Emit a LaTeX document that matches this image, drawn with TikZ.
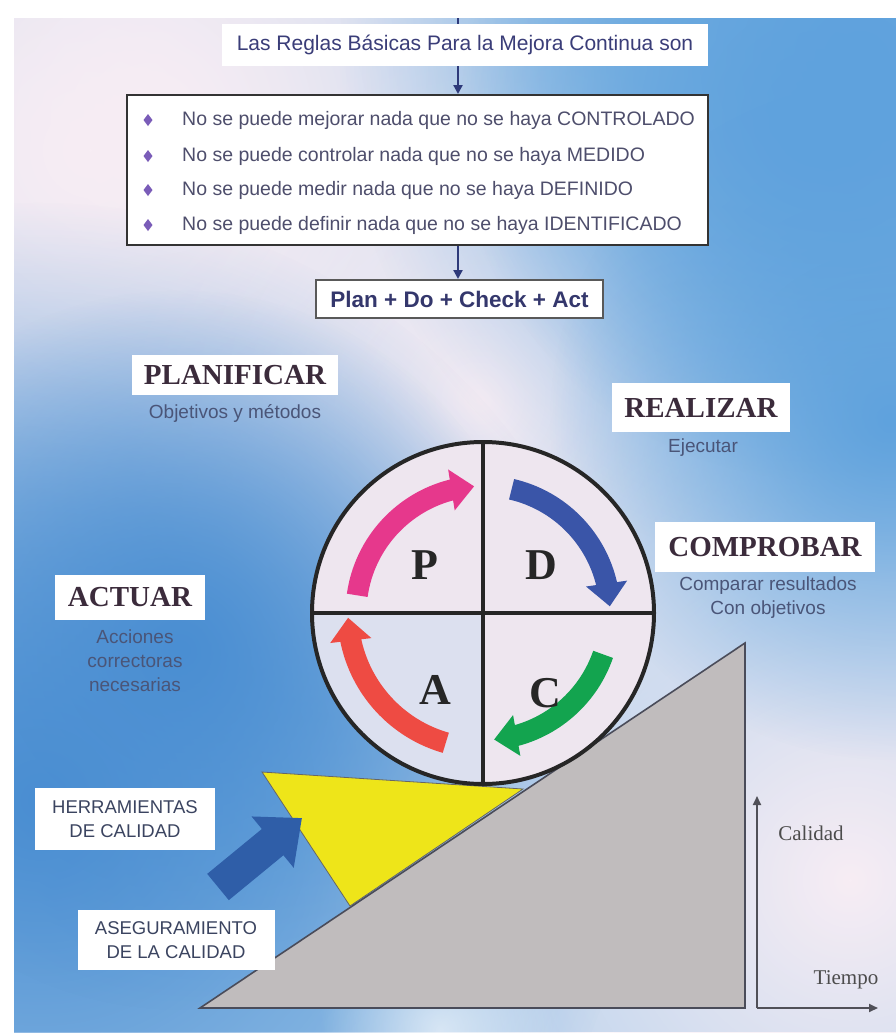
\documentclass[tikz,border=0pt]{standalone}
\usepackage{fontspec}
\setmainfont{Liberation Serif}
\setsansfont{Liberation Sans}
\usetikzlibrary{arrows.meta,bending,fadings,calc}
\definecolor{bgbase}{HTML}{A3C9EA}
\definecolor{pinkbg}{HTML}{F7EDF4}
\definecolor{blueA}{HTML}{4A8ED2}
\definecolor{blueB}{HTML}{5FA2DD}
\definecolor{titlec}{HTML}{3A3D78}
\definecolor{bultxt}{HTML}{4E4E6C}
\definecolor{bulc}{HTML}{7A5CB8}
\definecolor{conn}{HTML}{2E3A7A}
\definecolor{hdc}{HTML}{3B2B3B}
\definecolor{subc}{HTML}{4A5578}
\definecolor{circfill}{HTML}{EEE6EF}
\definecolor{circll}{HTML}{DCE0EF}
\definecolor{arrpink}{HTML}{E6388C}
\definecolor{arrblue}{HTML}{3A55A8}
\definecolor{arrgreen}{HTML}{13A44F}
\definecolor{arrred}{HTML}{EE4B43}
\definecolor{ramp}{HTML}{C0BCBD}
\definecolor{rampline}{HTML}{4A4C5A}
\definecolor{wedge}{HTML}{EEE519}
\definecolor{blockblue}{HTML}{2F5EA8}
\definecolor{axisc}{HTML}{505058}
\tikzfading[name=softdisc, inner color=transparent!0, outer color=transparent!100]
\tikzset{
  whitebox/.style={fill=white, inner sep=0pt, align=center},
  hdbox/.style={whitebox, font=\bfseries\fontsize{29}{32}\selectfont, text=hdc},
  sublabel/.style={font=\sffamily\fontsize{19}{24}\selectfont, text=subc, align=center, inner sep=0pt},
  bultext/.style={anchor=west, font=\sffamily\fontsize{19.5}{22}\selectfont, text=bultxt, inner sep=0pt},
  conline/.style={draw=conn, line width=2.2pt},
  conarrow/.style={conline, -{Triangle[width=9pt,length=9pt]}},
  cycarrow/.style={line width=21pt, -{Triangle[width=40pt,length=23pt]}},
  pdca/.style={font=\bfseries\fontsize{44}{44}\selectfont, text=black!85, inner sep=0pt},
  axisline/.style={draw=axisc, line width=1.8pt, -{Triangle[width=8pt,length=9pt]}},
  axislabel/.style={font=\fontsize{21}{24}\selectfont, text=black!70, inner sep=0pt}
}
\begin{document}
\begin{tikzpicture}[x=1pt,y=1pt]
\useasboundingbox (0,0) rectangle (896,-1034);
\fill[white] (0,0) rectangle (896,-1034);
% background
\fill[bgbase] (14,-18) rectangle (896,-1032);
\begin{scope}
  \clip (14,-18) rectangle (896,-1032);
  \fill[pinkbg, path fading=softdisc] (90,-150) circle (560);
  \fill[pinkbg, path fading=softdisc] (150,-120) circle (400);
  \fill[pinkbg, path fading=softdisc] (480,-400) circle (360);
  \fill[pinkbg, path fading=softdisc] (850,-880) circle (560);
  \fill[blueA, path fading=softdisc] (40,-800) circle (600);
  \fill[blueA, path fading=softdisc] (180,-650) circle (360);
  \fill[blueB, path fading=softdisc] (860,-60) circle (520);
  \fill[blueB, path fading=softdisc] (820,-120) circle (360);
  \fill[blueB, path fading=softdisc] (890,-420) circle (340);
  \fill[white, path fading=softdisc, opacity=0.6] (440,-1030) circle (120);
\end{scope}

% top flow
\coordinate (ax) at (458,0);
\coordinate (topend) at (458,-18);
\node[whitebox, minimum width=486pt, minimum height=42pt, font=\sffamily\fontsize{21}{24}\selectfont, text=titlec] (title) at (465,-45) {Las Reglas Básicas Para la Mejora Continua son};
\node[fill=white, draw=black!80, line width=2pt, minimum width=581pt, minimum height=150pt, inner sep=0pt] (rules) at (417.5,-170) {};
\node[fill=white, draw=black!65, line width=2pt, minimum width=287pt, minimum height=38pt, inner sep=0pt, font=\sffamily\bfseries\fontsize{22.5}{24}\selectfont, text=titlec!90!black] (pdcabox) at (459.5,-299) {Plan + Do + Check + Act};
\draw[conline] (topend) -- (title.north -| ax);
\draw[conarrow] (title.south -| ax) -- (rules.north -| ax);
\draw[conarrow] (rules.south -| ax) -- (pdcabox.north -| ax);

\foreach \yy in {120,156,190,225}{
  \fill[bulc] (148,-\yy+6) -- (152.5,-\yy) -- (148,-\yy-6) -- (143.5,-\yy) -- cycle;
}
\node[bultext] (r1) at (182,-120) {No se puede mejorar nada que no se haya CONTROLADO};
\node[bultext] (r2) at (182,-156) {No se puede controlar nada que no se haya MEDIDO};
\node[bultext] (r3) at (182,-190) {No se puede medir nada que no se haya DEFINIDO};
\node[bultext] (r4) at (182,-225) {No se puede definir nada que no se haya IDENTIFICADO};

% labels
\node[hdbox, minimum width=206pt, minimum height=40pt] (plan) at (235,-375) {PLANIFICAR};
\node[sublabel] (plansub) at (235,-413) {Objetivos y métodos};
\node[hdbox, minimum width=178pt, minimum height=49pt] (real) at (701,-407.5) {REALIZAR};
\node[sublabel] (realsub) at (703,-448) {Ejecutar};
\node[hdbox, minimum width=220pt, minimum height=50pt] (comp) at (765,-547) {COMPROBAR};
\node[sublabel] (compsub) at (768,-598) {Comparar resultados\\Con objetivos};
\node[hdbox, minimum width=150pt, minimum height=45pt] (act) at (130,-597.5) {ACTUAR};
\node[sublabel] (actsub) at (135,-661) {Acciones\\correctoras\\necesarias};

% ramp and wedge
\filldraw[fill=ramp, draw=rampline, line width=1.6pt] (200,-1008) -- (745,-1008) -- (745,-643) -- cycle;
\filldraw[fill=wedge, draw=black!60, line width=0.8pt] (262,-772) -- (523,-789) -- (350,-906) -- cycle;

% circle
\coordinate (c) at (483,-613);
\fill[circfill] (c) circle (171);
\fill[circll] (c) -- ++(180:171) arc[start angle=180, end angle=270, radius=171] -- cycle;
\node[circle, draw=black!85, line width=4pt, minimum size=342pt, inner sep=0pt] (cyc) at (c) {};
\draw[black!85, line width=3.5pt] (cyc.north) -- (cyc.south);
\draw[black!85, line width=3.5pt] (cyc.west) -- (cyc.east);

\draw[cycarrow, arrpink] ($(c)+(172:127)$) arc[start angle=172, end angle=94, radius=127];
\draw[cycarrow, arrblue] ($(c)+(77:127)$) arc[start angle=77, end angle=3, radius=127];
\draw[cycarrow, arrgreen] ($(c)+(-19:127)$) arc[start angle=-19, end angle=-85, radius=127];
\draw[cycarrow, arrred] ($(c)+(-106:135)$) arc[start angle=-106, end angle=-178, radius=135];

\node[pdca] (P) at (425,-565) {P};
\node[pdca] (D) at (541,-565) {D};
\node[pdca] (A) at (435,-690) {A};
\node[pdca] (C) at (545,-693) {C};

% quality labels and block arrow
\node[whitebox, minimum width=180pt, minimum height=62pt, font=\sffamily\fontsize{18.5}{24}\selectfont, text=subc!80!black] (herr) at (125,-819) {HERRAMIENTAS\\DE CALIDAD};
\node[whitebox, minimum width=197pt, minimum height=60pt, font=\sffamily\fontsize{18.5}{24}\selectfont, text=subc!80!black] (aseg) at (176,-940) {ASEGURAMIENTO\\DE LA CALIDAD};
\coordinate (btail) at (218,-887);
\coordinate (btip) at (302,-818);
\draw[line width=34pt, blockblue, -{Triangle[width=64pt,length=38pt]}] (btail) -- (btip);

% axes
\coordinate (orig) at (757,-1008);
\coordinate (ytop) at (757,-796);
\coordinate (xend) at (878,-1008);
\draw[axisline] (orig) -- (ytop);
\draw[axisline] (orig) -- (xend);
\node[axislabel] (cal) at (811,-833) {Calidad};
\node[axislabel] (tie) at (846,-980) {Tiempo};
\end{tikzpicture}
\end{document}
